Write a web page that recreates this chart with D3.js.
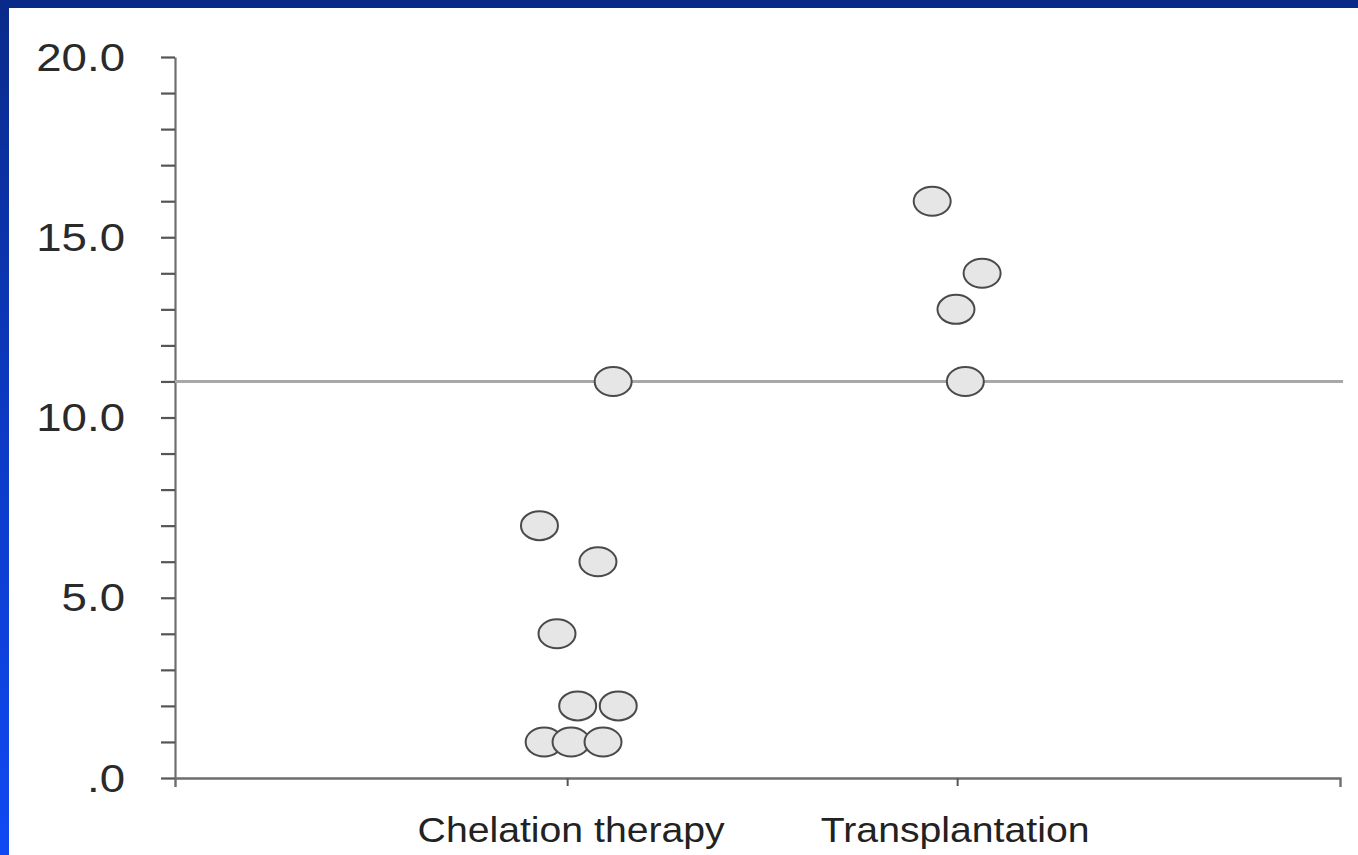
<!DOCTYPE html>
<html>
<head>
<meta charset="utf-8">
<script src="https://cdn.jsdelivr.net/npm/d3@7"></script>
<style>
  html, body { margin: 0; padding: 0; background: #fff; }
  svg { display: block; }
  text { font-family: "Liberation Sans", Arial, sans-serif; }
</style>
</head>
<body>
<svg id="chart" width="1358" height="855"></svg>
<script>
// ---- data ----
const categories = ["Chelation therapy", "Transplantation"];
const chelationValues = [11, 7, 6, 4, 2, 2, 1, 1, 1];
const chelationJitter = [0.118, -0.071, 0.079, -0.026, 0.027, 0.131, -0.059, 0.010, 0.092];
const transplantValues = [16, 14, 13, 11];
const transplantJitter = [-0.064, 0.064, -0.003, 0.021];
const referenceValue = 11;
const yMajorTicks = [0, 5, 10, 15, 20];
const yTickLabels = [".0", "5.0", "10.0", "15.0", "20.0"];
const yMinorTicks = d3.range(0, 21, 1);

const points = [
  ...chelationValues.map((v, i) => ({cat: categories[0], value: v, jitter: chelationJitter[i]})),
  ...transplantValues.map((v, i) => ({cat: categories[1], value: v, jitter: transplantJitter[i]}))
];

// ---- layout ----
const svg = d3.select("#chart");
const W = 1358, H = 855;
const plotLeft = 175, plotRight = 1340, plotTop = 57, plotBottom = 778;

// blue frame
const defs = svg.append("defs");
const grad = defs.append("linearGradient").attr("id", "leftBand")
  .attr("x1", 0).attr("y1", 0).attr("x2", 0).attr("y2", 1);
grad.append("stop").attr("offset", "0%").attr("stop-color", "#0a2a8a");
grad.append("stop").attr("offset", "50%").attr("stop-color", "#0c3ac4");
grad.append("stop").attr("offset", "100%").attr("stop-color", "#1049f4");

svg.append("rect").attr("x", 0).attr("y", 0).attr("width", W).attr("height", H).attr("fill", "#fff");
svg.append("rect").attr("x", 0).attr("y", 0).attr("width", 9).attr("height", H).attr("fill", "url(#leftBand)");
svg.append("rect").attr("x", 0).attr("y", 0).attr("width", W).attr("height", 8).attr("fill", "#0a2a8a");

// scales
const x = d3.scalePoint().domain(categories).range([plotLeft, plotRight]).padding(0.9936).align(0.506);
const step = x.step();
const y = d3.scaleLinear().domain([0, 20]).range([plotBottom, plotTop]);

// y axis
const yAxis = svg.append("g").attr("transform", `translate(${plotLeft},0)`)
  .call(d3.axisLeft(y).tickValues(yMinorTicks).tickSize(14).tickSizeOuter(0).tickFormat(""));
yAxis.select(".domain").attr("stroke", "#6e6e6e").attr("stroke-width", 2.2);
yAxis.selectAll(".tick line").attr("stroke", "#555").attr("stroke-width", 2.2);

// y labels
yMajorTicks.forEach((v, i) => {
  svg.append("g").attr("transform", `translate(125,${y(v)}) scale(1.2,1)`)
    .append("text")
    .attr("text-anchor", "end")
    .attr("dy", "0.36em")
    .attr("font-size", 38)
    .attr("fill", "#2a2a2a")
    .text(yTickLabels[i]);
});

// x axis
const xAxis = svg.append("g").attr("transform", `translate(0,${plotBottom})`)
  .call(d3.axisBottom(x).tickSize(8).tickSizeOuter(9).tickFormat(""));
xAxis.select(".domain").attr("stroke", "#6e6e6e").attr("stroke-width", 2.4);
xAxis.selectAll(".tick line").attr("stroke", "#555").attr("stroke-width", 2);

// x labels
categories.forEach((c, i) => {
  const cx = x(c) + (i === 0 ? 4 : -2);
  svg.append("g").attr("transform", `translate(${cx},842) scale(1.12,1)`)
    .append("text")
    .attr("text-anchor", "middle")
    .attr("font-size", 35)
    .attr("fill", "#222")
    .text(c);
});

// reference line
svg.append("line")
  .attr("x1", plotLeft).attr("x2", plotRight + 3)
  .attr("y1", y(referenceValue)).attr("y2", y(referenceValue))
  .attr("stroke", "#a8a8a8").attr("stroke-width", 3);

// points
svg.append("g").selectAll("ellipse").data(points).join("ellipse")
  .attr("cx", d => x(d.cat) + d.jitter * step)
  .attr("cy", d => y(d.value))
  .attr("rx", 18.5).attr("ry", 14.5)
  .attr("fill", "#e6e6e6")
  .attr("stroke", "#4a4a4a")
  .attr("stroke-width", 2);
</script>
</body>
</html>
